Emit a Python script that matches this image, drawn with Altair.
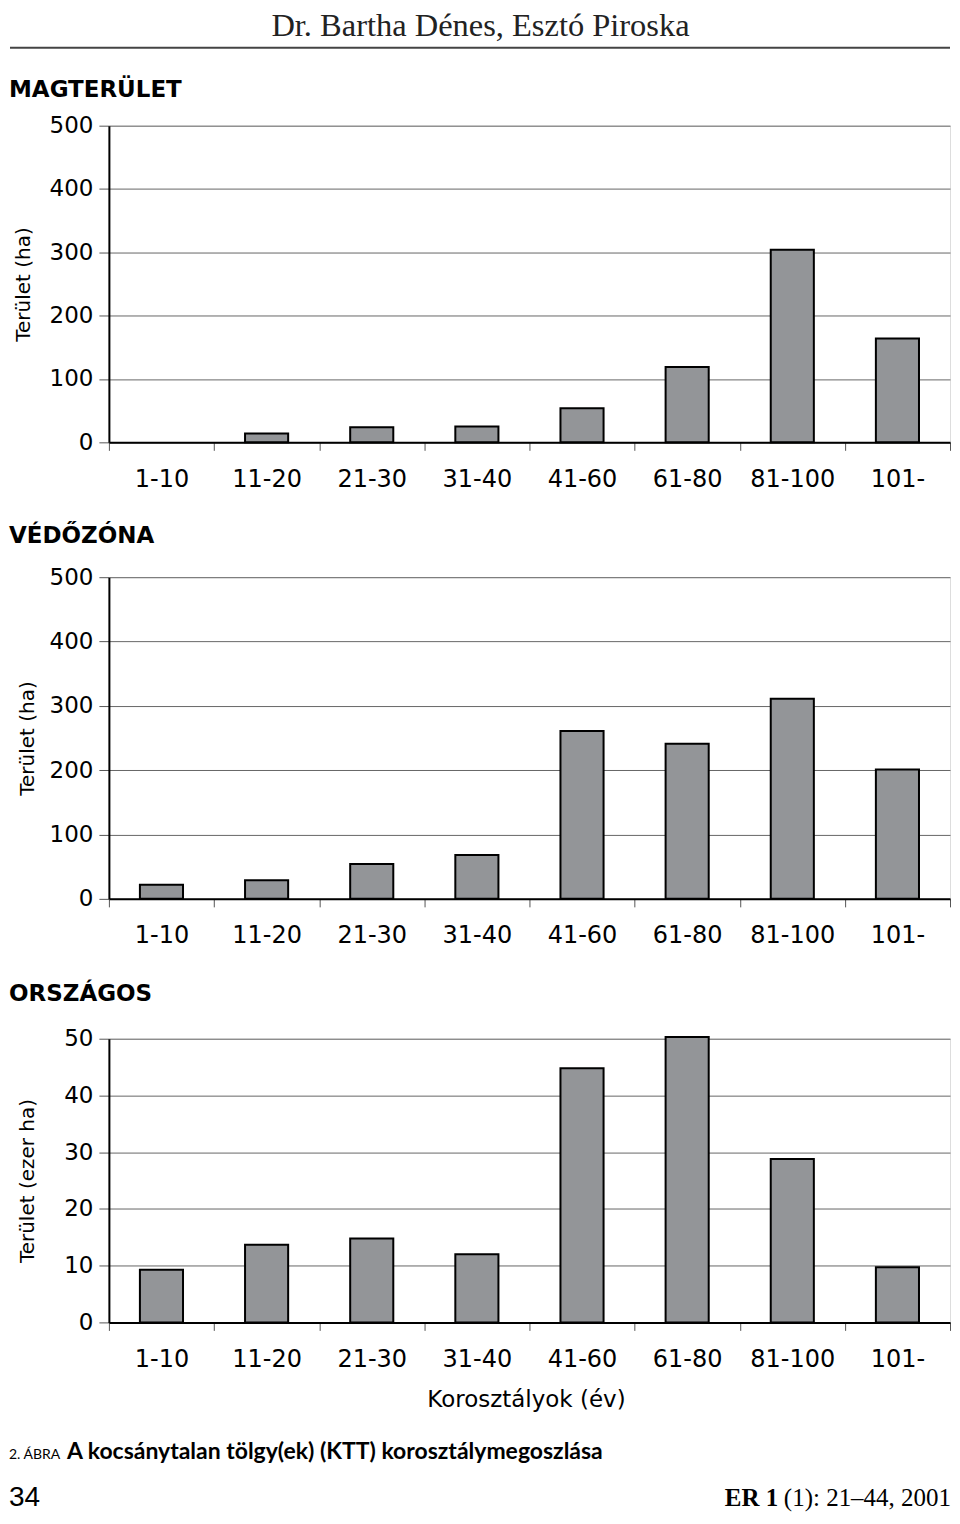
import altair as alt
import pandas as pd

categories = ["1-10", "11-20", "21-30", "31-40", "41-60", "61-80", "81-100", "101-"]
magterulet = [0, 14, 24, 25, 54, 119, 304, 164]
vedozona = [22, 29, 54, 68, 261, 241, 311, 201]
orszagos = [9.3, 13.7, 14.8, 12.0, 44.8, 50.3, 28.8, 9.7]

ticks_ha = [0, 100, 200, 300, 400, 500]
ticks_ezer = [0, 10, 20, 30, 40, 50]

panel_titles = ["MAGTERÜLET", "VÉDŐZÓNA", "ORSZÁGOS"]
y_titles = ["Terület (ha)", "Terület (ha)", "Terület (ezer ha)"]
x_title = "Korosztályok (év)"
header = "Dr. Bartha Dénes, Esztó Piroska"
caption_small = "2. ÁBRA"
caption_bold = "A kocsánytalan tölgy(ek) (KTT) korosztálymegoszlása"
page_no = "34"
journal_bold = "ER 1"
journal_rest = "(1): 21–44, 2001"

SANS = "DejaVu Sans"
W = 842


def text_layer(txt, x, y, size, font=SANS, weight="normal", align="left", color="black"):
    return alt.Chart(pd.DataFrame({"t": [txt]})).mark_text(
        align=align, baseline="alphabetic", font=font, fontSize=size,
        fontWeight=weight, color=color
    ).encode(x=alt.value(x), y=alt.value(y), text="t:N")


def panel(vals, domain, ticks, ytitle, title_x, height):
    df = pd.DataFrame({"cat": categories, "v": vals})
    bars = alt.Chart(df).transform_filter(alt.datum.v > 0).mark_bar(
        width=alt.RelativeBandSize(0.41), fill="#939598", stroke="black", strokeWidth=2
    ).encode(
        x=alt.X("cat:N", sort=categories,
                scale=alt.Scale(domain=categories, paddingInner=0, paddingOuter=0),
                axis=alt.Axis(title=None, labelAngle=0, tickBand="extent",
                              tickSize=8, tickColor="#555555", tickWidth=1,
                              domainColor="black", domainWidth=2,
                              labelFont=SANS, labelFontSize=24, labelPadding=17,
                              labelColor="black", grid=False)),
        y=alt.Y("v:Q", stack=None,
                scale=alt.Scale(domain=domain, nice=False, zero=True),
                axis=alt.Axis(values=ticks, title=ytitle, titleX=title_x,
                              titleY=height / 2, titleAngle=-90, titleAlign="center",
                              titleBaseline="middle", titleFont=SANS, titleFontSize=20,
                              titleFontWeight="normal", titleColor="black",
                              labelFont=SANS, labelFontSize=23, labelPadding=6,
                              labelColor="black",
                              tickSize=10, tickColor="#555555", tickWidth=1,
                              domainColor="black", domainWidth=2,
                              gridColor="#666666", gridWidth=1)),
    )
    return bars


p1 = alt.layer(
    panel(magterulet, [0, 500], ticks_ha, y_titles[0], -85, 317),
    text_layer(header, 372, -90, 32.5, font="Liberation Serif", align="center", color="#222222"),
    alt.Chart(pd.DataFrame({"a": [0]})).mark_rule(color="#444444", strokeWidth=2).encode(
        x=alt.value(-99), x2=alt.value(842), y=alt.value(-78)),
    text_layer(panel_titles[0], -100, -29, 23, weight="bold"),
).properties(width=W, height=317)

p2 = alt.layer(
    panel(vedozona, [0, 500], ticks_ha, y_titles[1], -81, 322),
    text_layer(panel_titles[1], -100, -34, 23, weight="bold"),
).properties(width=W, height=322)

p3 = alt.layer(
    panel(orszagos, [0, 50], ticks_ezer, y_titles[2], -81, 284),
    text_layer(panel_titles[2], -100, -38, 23, weight="bold"),
    text_layer(x_title, 418, 369, 23, align="center"),
    text_layer(caption_small, -100, 421, 14, font="Lato"),
    text_layer(caption_bold, -42, 421, 23, font="Lato", weight="bold"),
    text_layer(page_no, -100, 468, 28, font="Liberation Sans"),
    text_layer(journal_rest, 843, 468, 25, font="Liberation Serif", align="right"),
    text_layer(journal_bold, 670, 468, 25, font="Liberation Serif", weight="bold", align="right"),
).properties(width=W, height=284)

inner = alt.vconcat(p2, p3, spacing=140, bounds="flush")
chart = alt.vconcat(p1, inner, spacing=135, bounds="flush").properties(
    padding=0
).configure_view(
    fill="#e6e7e8", stroke="black", strokeWidth=2
).configure(background="white")

chart.save("out.html", embed_options={"renderer": "svg", "actions": False})
